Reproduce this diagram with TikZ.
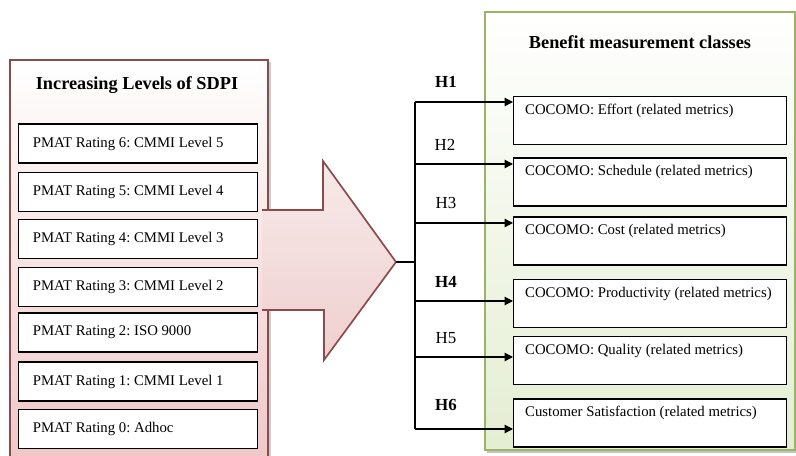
\documentclass[tikz,border=0pt]{standalone}
\usepackage{fontspec}
\setmainfont{Liberation Serif}
\frenchspacing
\usetikzlibrary{arrows.meta, positioning, calc}
\definecolor{sdpiborder}{HTML}{8C4B4B}
\definecolor{sdpipink}{HTML}{F0C6C6}
\definecolor{arrowpink}{HTML}{EFCFCF}
\definecolor{benefitborder}{HTML}{9BB464}
\definecolor{benefitgreen}{HTML}{E4EED2}
\definecolor{shadowgray}{HTML}{9A9A9A}
\tikzset{
  lpanel/.style={draw=sdpiborder, line width=1.2pt, top color=white, bottom color=sdpipink},
  rpanel/.style={draw=benefitborder, line width=1pt, top color=white, bottom color=benefitgreen},
  paneltitle/.style={font=\fontsize{13}{15}\selectfont\bfseries},
  rating/.style={
    rectangle, draw=black, line width=1pt, fill=white,
    minimum width=5.975cm, minimum height=0.98cm,
    text width=5.27cm, align=flush left, anchor=west,
    font=\fontsize{10.5}{12.6}\selectfont,
  },
  benefit/.style={
    rectangle, draw=black, line width=1pt, fill=white,
    minimum width=6.825cm, minimum height=1.2cm,
    text width=6.25cm, align=flush left, anchor=west,
    font=\fontsize{10.5}{12.6}\selectfont,
  },
  hyp/.style={font=\fontsize{12}{14}\selectfont},
  hypb/.style={font=\fontsize{12}{14}\selectfont\bfseries},
  arrow/.style={-{Triangle[length=6pt,width=6pt]}, line width=0.9pt, color=black},
  bus/.style={line width=0.9pt, color=black},
}
\begin{document}
\begin{tikzpicture}[x=0.025cm, y=-0.025cm]
  \useasboundingbox (0,0) rectangle (796,455);

  % left panel
  \fill[shadowgray!50] (12,62) rectangle (270.5,470);
  \path[lpanel] (10,60) rectangle (268,470);
  \node[paneltitle] (sdpititle) at (137,85) {Increasing Levels of SDPI};

  \node[rating] (r6) at (18,143.5) {PMAT Rating 6: CMMI Level 5};
  \node[rating] (r5) at (18,192) {PMAT Rating 5: CMMI Level 4};
  \node[rating] (r4) at (18,239) {PMAT Rating 4: CMMI Level 3};
  \node[rating] (r3) at (18,287) {PMAT Rating 3: CMMI Level 2};
  \node[rating] (r2) at (18,332.5) {PMAT Rating 2: ISO 9000};
  \node[rating] (r1) at (18,381.5) {PMAT Rating 1: CMMI Level 1};
  \node[rating] (r0) at (18,429) {PMAT Rating 0: Adhoc};

  % right panel
  \fill[shadowgray!60] (487,14) rectangle (797,453);
  \path[rpanel] (485,12) rectangle (795,450);
  \node[paneltitle] (bmtitle) at (640,42) {Benefit measurement classes};

  \node[benefit] (b1) at (513,120.5) {COCOMO: Effort (related metrics)\\\strut};
  \node[benefit] (b2) at (513,182) {COCOMO: Schedule (related metrics)\\\strut};
  \node[benefit] (b3) at (513,241) {COCOMO: Cost (related metrics)\\\strut};
  \node[benefit] (b4) at (513,303.5) {COCOMO: Productivity (related metrics)\\\strut};
  \node[benefit] (b5) at (513,360.5) {COCOMO: Quality (related metrics)\\\strut};
  \node[benefit] (b6) at (513,423) {Customer Satisfaction (related metrics)\\\strut};

  % big arrow
  \fill[top color=arrowpink!45!white, bottom color=arrowpink]
    (262,210) -- (323,210) -- (323,161) -- (396,262) -- (324,360) -- (324,310) -- (262,310) -- cycle;
  \draw[sdpiborder, line width=1.2pt, line join=miter]
    (262,210) -- (323,210) -- (323,161) -- (396,262) coordinate (tip) -- (324,360) -- (324,310) -- (262,310);

  % hypotheses
  \coordinate (bus) at (415,262);
  \coordinate (h1) at (415,102);
  \coordinate (h2) at (415,164);
  \coordinate (h3) at (415,223);
  \coordinate (h4) at (415,301);
  \coordinate (h5) at (415,357);
  \coordinate (h6) at (415,429);
  \draw[bus] (tip) -- (bus);
  \draw[bus] (h1) -- (h6);

  \draw[arrow] (h1) -- (h1 -| b1.west);
  \draw[arrow] (h2) -- (h2 -| b2.west);
  \draw[arrow] (h3) -- (h3 -| b3.west);
  \draw[arrow] (h4) -- (h4 -| b4.west);
  \draw[arrow] (h5) -- (h5 -| b5.west);
  \draw[arrow] (h6) -- (h6 -| b6.west);

  \node[hypb] (l1) at (446,82) {H1};
  \node[hyp]  (l2) at (445,145) {H2};
  \node[hyp]  (l3) at (446,203) {H3};
  \node[hypb] (l4) at (446,282) {H4};
  \node[hyp]  (l5) at (446,338) {H5};
  \node[hypb] (l6) at (446,405) {H6};

\end{tikzpicture}
\end{document}
